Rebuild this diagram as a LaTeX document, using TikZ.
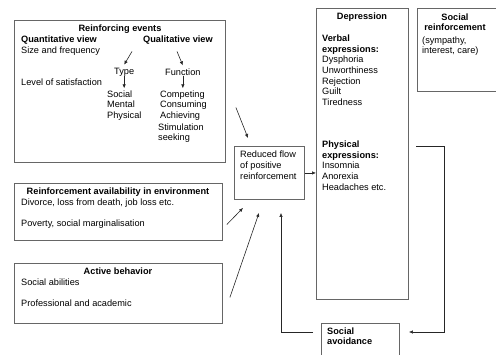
\documentclass[tikz,border=0pt]{standalone}
\usepackage{fontspec}
\setmainfont{Liberation Sans}
\usetikzlibrary{arrows.meta}

\begin{document}
\begin{tikzpicture}[x=1pt,y=-1pt,
  font=\fontsize{9.2}{10.7}\selectfont,
  box/.style={draw=black!60,line width=0.9pt,anchor=north west,inner sep=0pt},
  txt/.style={anchor=west,inner sep=0pt},
  lst/.style={anchor=north west,inner sep=0pt,align=left},
  arr/.style={draw=black!85,line width=0.6pt,-{Latex[length=4pt,width=3.5pt]}}]
\useasboundingbox (0,0) rectangle (496,354);

% boxes
\node[box,minimum width=211pt,minimum height=142pt] (events) at (14,20) {};
\node[box,minimum width=208pt,minimum height=57pt] (avail) at (14,183) {};
\node[box,minimum width=208pt,minimum height=60pt] (active) at (14,263) {};
\node[box,minimum width=70pt,minimum height=53pt] (reduced) at (234,146) {};
\node[box,minimum width=92pt,minimum height=291pt] (depr) at (316,8) {};
\node[box,minimum width=110pt,minimum height=83pt] (socrein) at (417,8) {};
\node[box,minimum width=78pt,minimum height=40pt] (avoid) at (321,323) {};

% reinforcing events
\node[txt,anchor=center] (evtitle) at (120,29) {\textbf{Reinforcing events}};
\node[txt] (quant) at (21,40) {\textbf{Quantitative view}};
\node[txt] (qual) at (143,40) {\textbf{Qualitative view}};
\node[txt] (size) at (21,51.5) {Size and frequency};
\node[txt] (satis) at (21,82) {Level of satisfaction};
\node[txt] (type) at (114,72) {Type};
\node[txt] (func) at (165,72) {Function};
\node[lst] (typelist) at (107,90.3) {Social\\Mental\\Physical};
\node[lst] (funclist) at (160,90.3) {Competing\\Consuming\\Achieving};
\node[lst] (stim) at (158,123.3) {Stimulation\\seeking};

\draw[arr] ([xshift=-11pt,yshift=-7pt]qual.south west) -- ([yshift=3pt]type.north);
\draw[arr] ([xshift=34pt,yshift=-7pt]qual.south west) -- ([yshift=3pt]func.north);
\draw[arr] (type.south) -- ([yshift=2pt]type.south |- typelist.north);
\draw[arr] (func.south) -- ([yshift=2pt]func.south |- funclist.north);

% environment
\node[txt,anchor=center] (avtitle) at (118,192) {\textbf{Reinforcement availability in environment}};
\node[txt] (divorce) at (21,203) {Divorce, loss from death, job loss etc.};
\node[txt] (poverty) at (21,224) {Poverty, social marginalisation};

% active behavior
\node[txt,anchor=center] (actitle) at (118,271) {\textbf{Active behavior}};
\node[txt] (abil) at (21,282) {Social abilities};
\node[txt] (prof) at (21,303) {Professional and academic};

% reduced flow
\node[lst,font=\fontsize{9.2}{11.3}\selectfont] (redtext) at (240,150.3) {Reduced flow\\of positive\\reinforcement};

% depression
\node[txt,anchor=center] (deprtitle) at (362,17) {\textbf{Depression}};
\node[lst] (verbal) at (322,34.6) {\textbf{Verbal}\\\textbf{expressions:}\\Dysphoria\\Unworthiness\\Rejection\\Guilt\\Tiredness};
\node[lst] (phys) at (322,140.6) {\textbf{Physical}\\\textbf{expressions:}\\Insomnia\\Anorexia\\Headaches etc.};

% social reinforcement
\node[lst,align=center,anchor=north] (srtitle) at (455,13.3) {\textbf{Social}\\\textbf{reinforcement}};
\node[lst] (srtext) at (422,36.3) {(sympathy,\\interest, care)};

% social avoidance
\node[lst] (avtext) at (327,327.3) {\textbf{Social}\\\textbf{avoidance}};

% connectors
\coordinate (dp) at (416,146);
\coordinate (turn) at (444,146);
\draw[arr] ([xshift=10pt,yshift=-16pt]events.east) -- ([xshift=14pt,yshift=8pt]reduced.north west);
\draw[arr] ([xshift=4pt,yshift=-12.5pt]avail.east) -- ([xshift=9pt,yshift=-8pt]reduced.south west);
\draw[arr] ([xshift=7pt,yshift=-4pt]active.east) -- ([xshift=25pt,yshift=-13pt]reduced.south west);
\draw[arr] (reduced.east) -- (reduced.east -| depr.west);
\draw[arr] (dp) -- (turn) |- ([xshift=9pt,yshift=-9pt]avoid.north east);
\draw[arr] ([xshift=-8pt,yshift=-9pt]avoid.north west) -| ([xshift=47pt,yshift=-13pt]reduced.south west);
\end{tikzpicture}
\end{document}
